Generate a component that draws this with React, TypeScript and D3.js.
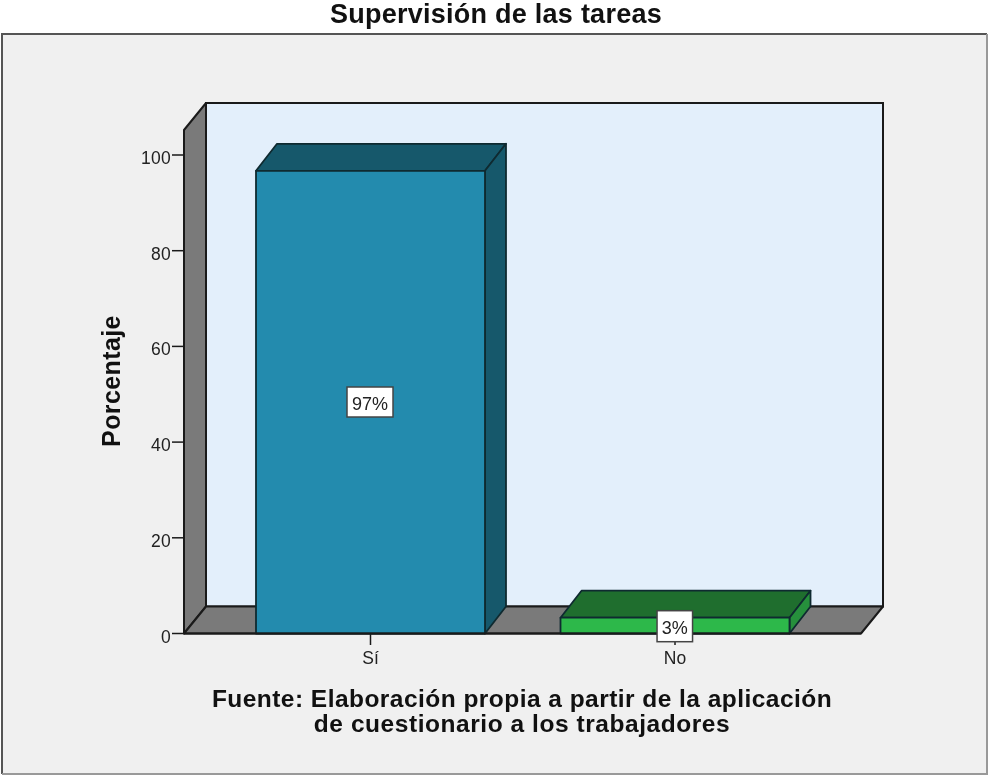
import React from "react";
import * as d3 from "d3";

const categories = ["Sí", "No"];
const values = [96.7, 3.3];
const valueLabels = ["97%", "3%"];
const frontColors = ["#238bae", "#2db84a"];
const topColors = ["#16586b", "#1f6e2e"];
const sideColors = ["#16586b", "#26903c"];
const yTicks = [0, 20, 40, 60, 80, 100];
const titleText = "Supervisión de las tareas";
const yTitle = "Porcentaje";
const footnote = ["Fuente: Elaboración propia a partir de la aplicación", "de cuestionario a los trabajadores"];

const W = 988, H = 776;
const y = d3.scaleLinear().domain([0, 100]).range([633.5, 155]);
const x = d3.scaleBand<string>().domain(categories).range([256, 789.5]).paddingInner(0.248);
const dx = 22, dy = -27;
const left = 184, right = 861;
const top = 130;
const font = "'Liberation Sans', Arial, sans-serif";
const ink = "#1a1a1a";
const pts = (p: number[][]) => p.map((q) => q.join(",")).join(" ");
const labelBoxes = [
  { cx: 370, cy: 402, w: 46, h: 30, base: 410 },
  { cx: 674.8, cy: 626.2, w: 35.5, h: 31, base: 633.5 },
];

export default function App() {
  const y0 = y(0);
  return (
    <svg width={W} height={H} viewBox={`0 0 ${W} ${H}`} style={{ position: "absolute", left: 0, top: 0, display: "block", filter: "blur(0.35px)" }} fontFamily={font}>
      <rect width={W} height={H} fill="#fff" />
      <rect x={2} y={34} width={985} height={740} fill="#f0f0f0" />
      <polyline points={pts([[2, 774], [2, 34], [987, 34]])} fill="none" stroke="#555" strokeWidth={2} />
      <polyline points={pts([[987, 34], [987, 774], [2, 774]])} fill="none" stroke="#999" strokeWidth={2} />
      <text x={496} y={23} textAnchor="middle" fontSize={27} fontWeight="bold" letterSpacing={0.25} fill="#111">{titleText}</text>

      {/* back wall, side wall, floor */}
      <rect x={left + dx} y={top + dy} width={right - left} height={y0 - top} fill="#e3effb" stroke={ink} strokeWidth={2} />
      <polygon points={pts([[left, top], [left + dx, top + dy], [left + dx, y0 + dy], [left, y0]])} fill="#7a7a7a" stroke={ink} strokeWidth={2} strokeLinejoin="round" />
      <polygon points={pts([[left, y0], [left + dx, y0 + dy], [right + dx, y0 + dy], [right, y0]])} fill="#7a7a7a" stroke={ink} strokeWidth={2} strokeLinejoin="round" />

      {/* y axis */}
      {yTicks.map((t) => (
        <g key={t}>
          <line x1={left - 12} x2={left} y1={y(t)} y2={y(t)} stroke={ink} strokeWidth={1.5} />
          <text x={left - 13} y={y(t) + 9} textAnchor="end" fontSize={17.5} letterSpacing={0.3} fill="#222">{t}</text>
        </g>
      ))}
      <text transform={`translate(119.5,381) rotate(-90)`} textAnchor="middle" fontSize={25} fontWeight="bold" letterSpacing={0.4} fill="#111">{yTitle}</text>

      {/* x ticks */}
      {categories.map((c) => {
        const cx = x(c)! + x.bandwidth() / 2;
        return (
          <g key={c}>
            <line x1={cx} x2={cx} y1={y0} y2={y0 + 11.5} stroke={ink} strokeWidth={1.5} />
            <text x={cx} y={664} textAnchor="middle" fontSize={17.5} fill="#222">{c}</text>
          </g>
        );
      })}

      {/* bars */}
      {categories.map((c, i) => {
        const x0 = x(c)!, x1 = x0 + x.bandwidth(), yt = y(values[i]);
        return (
          <g key={c} stroke="#0f2a30" strokeWidth={1.8} strokeLinejoin="round">
            <polygon points={pts([[x0, yt], [x0 + dx - 1, yt + dy], [x1 + dx - 1, yt + dy], [x1, yt]])} fill={topColors[i]} />
            <polygon points={pts([[x1, yt], [x1 + dx - 1, yt + dy], [x1 + dx - 1, y0 + dy], [x1, y0]])} fill={sideColors[i]} />
            <rect x={x0} y={yt} width={x.bandwidth()} height={y0 - yt} fill={frontColors[i]} />
          </g>
        );
      })}
      <line x1={left} x2={right} y1={y0} y2={y0} stroke={ink} strokeWidth={2} />

      {/* value labels */}
      {categories.map((c, i) => {
        const b = labelBoxes[i];
        return (
          <g key={c}>
            <rect x={b.cx - b.w / 2} y={b.cy - b.h / 2} width={b.w} height={b.h} fill="#fff" stroke="#444" strokeWidth={1.5} />
            <text x={b.cx} y={b.base} textAnchor="middle" fontSize={18} fill="#222">{valueLabels[i]}</text>
          </g>
        );
      })}

      {/* footnote */}
      <text x={522} y={707} textAnchor="middle" fontSize={24.5} fontWeight="bold" letterSpacing={0.46} fill="#111">{footnote[0]}</text>
      <text x={522} y={732} textAnchor="middle" fontSize={24.5} fontWeight="bold" letterSpacing={0.55} fill="#111">{footnote[1]}</text>
    </svg>
  );
}
